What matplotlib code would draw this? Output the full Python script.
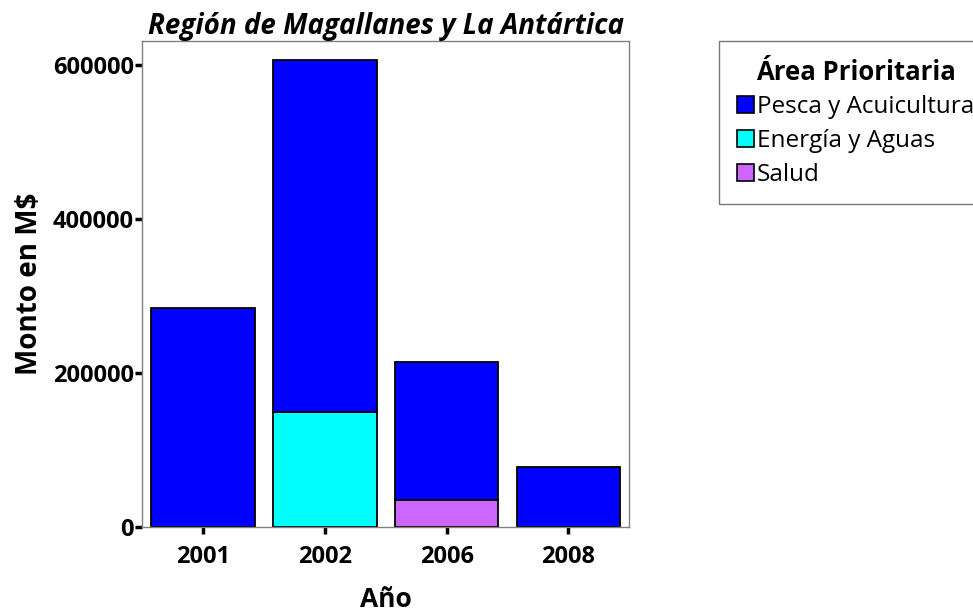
import numpy as np
import matplotlib
matplotlib.use("Agg")
import matplotlib.pyplot as plt
from matplotlib.patches import Patch

plt.rcParams['font.family'] = ['Open Sans', 'DejaVu Sans']

# datos (M$)
anios = ['2001', '2002', '2006', '2008']
pesca = [285000, 457000, 179600, 78300]
energia = [0, 149700, 0, 0]
salud = [0, 0, 34700, 0]
areas = ['Pesca y Acuicultura', 'Energía y Aguas', 'Salud']
colores = ['#0000FF', '#00FFFF', '#CC66FF']
yticks = [0, 200000, 400000, 600000]

fig = plt.figure(figsize=(9.73, 6.11), dpi=100)
ax = fig.add_axes([0.146, 0.1375, 0.5008, 0.7949])

x = np.arange(len(anios))
ancho = 0.85
energia = np.array(energia)
salud = np.array(salud)
base = energia + salud

for serie, col in [(energia, colores[1]), (salud, colores[2])]:
    m = serie > 0
    ax.bar(x[m], serie[m], width=ancho, color=col, edgecolor='black', linewidth=1.3)
ax.bar(x, pesca, width=ancho, bottom=base, color=colores[0], edgecolor='black', linewidth=1.3)

ax.set_xlim(-0.5, 3.5)
ax.set_ylim(0, 631000)
ax.set_xticks(x)
ax.set_xticklabels(anios, fontsize=17, fontweight='bold')
ax.set_yticks(yticks)
ax.set_yticklabels([str(v) for v in yticks], fontsize=17, fontweight='bold')
ax.tick_params(axis='both', direction='out', length=5, width=2.5, color='black', pad=1)
ax.tick_params(axis='x', pad=8)

for s in ax.spines.values():
    s.set_color('#808080')
    s.set_linewidth(1)

ax.set_title('Región de Magallanes y La Antártica', fontsize=20, fontweight='bold',
             style='italic', pad=4)
ax.set_xlabel('Año', fontsize=19, fontweight='bold', labelpad=12)
ax.set_ylabel('Monto en M$', fontsize=20, fontweight='bold', labelpad=6)

handles = [Patch(facecolor=c, edgecolor='black', linewidth=1.2) for c in colores]
leg = fig.legend(handles, areas, loc='upper left', bbox_to_anchor=(719/973, 1 - 41/611),
                 title='Área Prioritaria', fontsize=17.5, title_fontsize=18.5,
                 frameon=True, fancybox=False, edgecolor='#555555',
                 handlelength=0.7, handleheight=0.7, handletextpad=0.15,
                 labelspacing=0.4, borderaxespad=0, borderpad=0.72)
leg.get_title().set_fontweight('bold')
leg.get_frame().set_linewidth(1)

fig.savefig('out.png', dpi=100)
